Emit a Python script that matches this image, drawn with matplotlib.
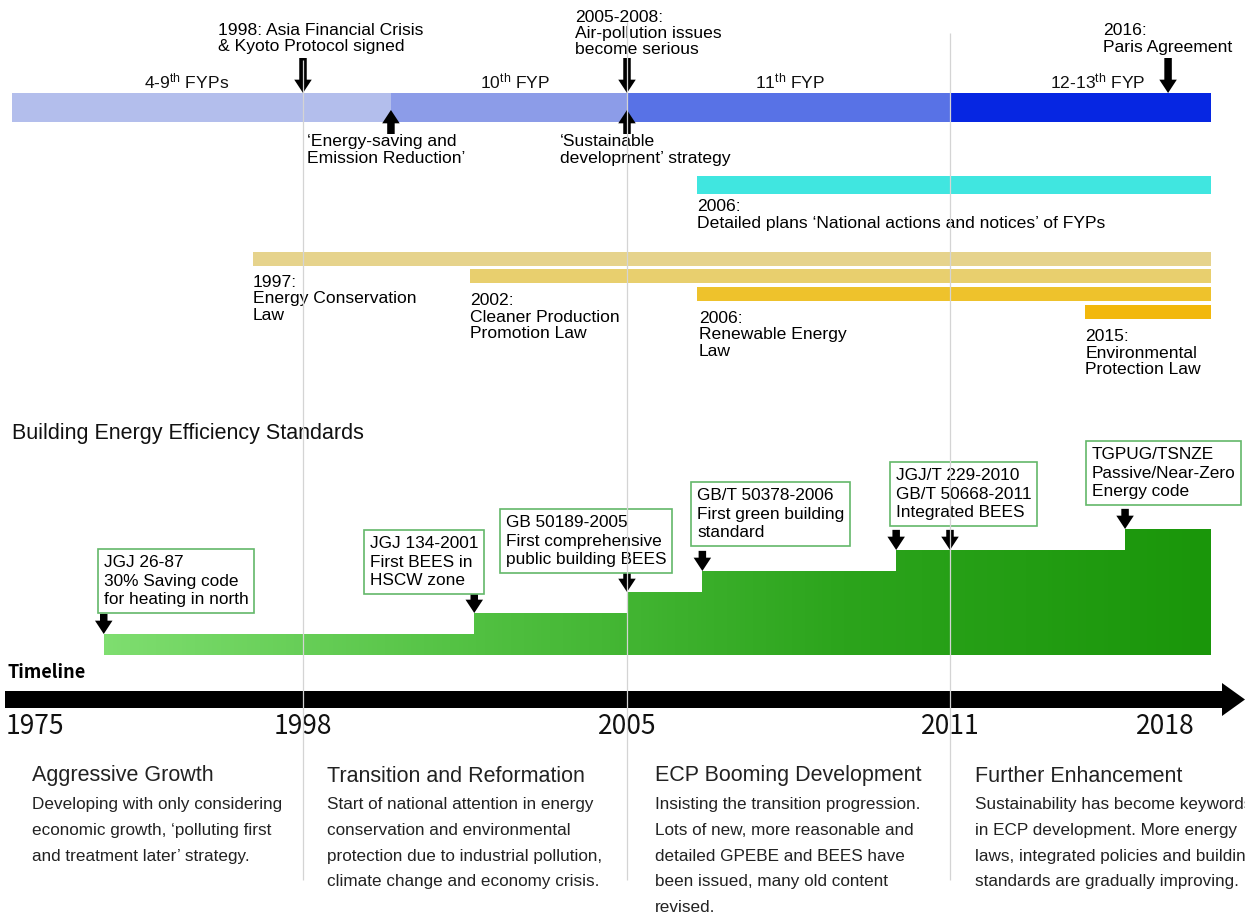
import numpy as np
import matplotlib
matplotlib.use('Agg')
import matplotlib.pyplot as plt
from matplotlib.colors import LinearSegmentedColormap

plt.rcParams['font.family'] = ['Liberation Sans', 'DejaVu Sans']
plt.rcParams['mathtext.fontset'] = 'custom'
plt.rcParams['mathtext.rm'] = 'Liberation Sans'
plt.rcParams['mathtext.it'] = 'Liberation Sans:italic'
plt.rcParams['mathtext.bf'] = 'Liberation Sans:bold'

# ---- data (x values read off the timeline axis, which is not to scale) ----
tick_years = [1975, 1998, 2005, 2011, 2018]

fyp_names = ['4-9$^{\\rm th}$ FYPs', '10$^{\\rm th}$ FYP', '11$^{\\rm th}$ FYP', '12-13$^{\\rm th}$ FYP']
fyp_start = [1973.0, 1999.9, 2005.0, 2011.0]
end_year = 2019.5

down_years = [1998.0, 2005.0, 2018.1]
down_text = ['1998: Asia Financial Crisis\n& Kyoto Protocol signed',
             '2005-2008:\nAir-pollution issues\nbecome serious',
             '2016:\nParis Agreement']
up_years = [1999.9, 2005.0]
up_text = ['\u2018Energy-saving and\nEmission Reduction\u2019',
           '\u2018Sustainable\ndevelopment\u2019 strategy']

plan_start = 2006.3
plan_text = '2006:\nDetailed plans \u2018National actions and notices\u2019 of FYPs'

law_start = [1993.7, 2001.6, 2006.3, 2015.4]
law_text = ['1997:\nEnergy Conservation\nLaw', '2002:\nCleaner Production\nPromotion Law',
            '2006:\nRenewable Energy\nLaw', '2015:\nEnvironmental\nProtection Law']

bees_year = [1980.9, 2001.7, 2005.0, 2006.4, 2010.0, 2011.0, 2016.7]
bees_level = [1, 2, 3, 4, 5, 5, 6]
bees_text = ['JGJ 26-87\n30% Saving code\nfor heating in north',
             'JGJ 134-2001\nFirst BEES in\nHSCW zone',
             'GB 50189-2005\nFirst comprehensive\npublic building BEES',
             'GB/T 50378-2006\nFirst green building\nstandard',
             'JGJ/T 229-2010\nGB/T 50668-2011\nIntegrated BEES',
             'TGPUG/TSNZE\nPassive/Near-Zero\nEnergy code']

phase_title = ['Aggressive Growth', 'Transition and Reformation',
               'ECP Booming Development', 'Further Enhancement']
phase_text = ['Developing with only considering\neconomic growth, \u2018polluting first\nand treatment later\u2019 strategy.',
              'Start of national attention in energy\nconservation and environmental\nprotection due to industrial pollution,\nclimate change and economy crisis.',
              'Insisting the transition progression.\nLots of new, more reasonable and\ndetailed GPEBE and BEES have\nbeen issued, many old content\nrevised.',
              'Sustainability has become keywords\nin ECP development. More energy\nlaws, integrated policies and building\nstandards are gradually improving.']

# ---- layout ----
W, H = 1245, 917
TICK_PX = [35, 303, 627, 950, 1165]


def _pw(x, xs, ys):
    x = np.asarray(x, dtype=float)
    s0 = (ys[1] - ys[0]) / (xs[1] - xs[0])
    s1 = (ys[-1] - ys[-2]) / (xs[-1] - xs[-2])
    out = np.interp(x, xs, ys)
    out = np.where(x < xs[0], ys[0] + (x - xs[0]) * s0, out)
    out = np.where(x > xs[-1], ys[-1] + (x - xs[-1]) * s1, out)
    return out


def fwd(x):
    return _pw(x, tick_years, TICK_PX)


def inv(p):
    return _pw(p, TICK_PX, tick_years)


def yr(p):
    return float(inv(p))


fig = plt.figure(figsize=(W / 100, H / 100), dpi=100, facecolor='white')
ax = fig.add_axes([0, 0, 1, 1])
ax.set_xscale('function', functions=(fwd, inv))
ax.set_zorder(2)
ax.patch.set_alpha(0)
ax.axis('off')

TXT = 12.6
LS = 1.12
arrow_style = 'simple,head_length=0.8,head_width=1.05,tail_width=0.45'


def arrow(a, x, y0, y1, ms=12):
    a.annotate('', xy=(x, y1), xytext=(x, y0), annotation_clip=False,
               arrowprops=dict(arrowstyle=arrow_style, mutation_scale=ms,
                               fc='black', ec='black', lw=0, shrinkA=0, shrinkB=0))


# five-year plan bar
fyp_colors = ['#B3BEEC', '#8C9CE8', '#5872E6', '#0626E2']
fyp_end = fyp_start[1:] + [end_year]
ax.barh([107.5] * 4, np.array(fyp_end) - np.array(fyp_start), left=fyp_start,
        height=29, color=fyp_colors, zorder=2)
fyp_label_px = [187, 515, 790, 1098]
for name, px in zip(fyp_names, fyp_label_px):
    ax.text(yr(px), 81, name, ha='center', va='center', fontsize=TXT, color='#111')

for x in down_years:
    arrow(ax, x, 58, 93)
for x in up_years:
    arrow(ax, x, 134, 110)

ax.text(yr(218), 38.5, down_text[0], ha='left', va='center', fontsize=TXT, linespacing=LS)
ax.text(yr(575), 33.5, down_text[1], ha='left', va='center', fontsize=TXT, linespacing=LS)
ax.text(yr(1103), 39, down_text[2], ha='left', va='center', fontsize=TXT, linespacing=LS)
ax.text(yr(307), 150, up_text[0], ha='left', va='center', fontsize=TXT, linespacing=LS)
ax.text(yr(560), 150, up_text[1], ha='left', va='center', fontsize=TXT, linespacing=LS)

# detailed plans
ax.barh(185, end_year - plan_start, left=plan_start, height=18, color='#40E6E0', zorder=2)
ax.text(plan_start, 215, plan_text, ha='left', va='center', fontsize=TXT, linespacing=LS)

# laws
law_colors = ['#E6D38C', '#E8CF6E', '#EEC22C', '#F2B80C']
law_rows = [259, 276, 294, 312]
ax.barh(law_rows, end_year - np.array(law_start), left=law_start, height=14,
        color=law_colors, zorder=2)
law_text_y = [299, 317, 335, 353]
law_text_dx = [0, 0, 2, 0]
for x, s, y, dx in zip(law_start, law_text, law_text_y, law_text_dx):
    ax.text(yr(fwd(x) + dx), y, s, ha='left', va='center', fontsize=TXT, linespacing=LS)

ax.text(yr(12), 434, 'Building Energy Efficiency Standards', ha='left', va='center',
        fontsize=15.5, color='#111')

# BEES boxes
box_px = [(104, 555), (370, 536), (506, 515), (697, 488), (896, 468), (1092, 447)]
for (bx, by), s in zip(box_px, bees_text):
    ax.text(yr(bx), by, s, ha='left', va='top', fontsize=12.4, linespacing=1.3,
            bbox=dict(boxstyle='square,pad=0.33', fc='white', ec='#63B86A', lw=1.2))

# stepped area of standards
ax_step = fig.add_axes([float(fwd(bees_year[0])) / W, (H - 655) / H,
                        float(fwd(end_year) - fwd(bees_year[0])) / W, 6 * 21 / H])
ax_step.set_zorder(1)
ax_step.set_xscale('function', functions=(fwd, inv))
ax_step.axis('off')
xs = bees_year + [end_year]
lv = bees_level + [bees_level[-1]]
poly = ax_step.fill_between(xs, 0, lv, step='post', facecolor='none', edgecolor='none')
green = LinearSegmentedColormap.from_list('g', ['#7FDE70', '#52C142', '#2CA41C', '#1A960A'])
im = ax_step.imshow(np.linspace(0, 1, 256).reshape(1, -1), extent=[0, 1, 0, 1],
                    transform=ax_step.transAxes, aspect='auto', cmap=green)
im.set_clip_path(poly.get_paths()[0], transform=ax_step.transData)
ax_step.set_xlim(bees_year[0], end_year)
ax_step.set_ylim(0, 6)
for x, l in zip(bees_year, bees_level):
    ax_step.annotate('', xy=(x, l), xytext=(0, 14.5), textcoords='offset points',
                     annotation_clip=False,
                     arrowprops=dict(arrowstyle=arrow_style, mutation_scale=12,
                                     fc='black', ec='black', lw=0, shrinkA=0, shrinkB=0))

# timeline arrow
tx = [5, 1222, 1222, 1245, 1222, 1222, 5]
ty = [691, 691, 683, 699.5, 716, 708, 708]
ax.fill([yr(v) for v in tx], ty, color='black', lw=0, zorder=3)
ax.text(yr(8), 672, 'Timeline', ha='left', va='center', fontsize=13, fontweight='bold',
        family=['Noto Sans CJK SC', 'DejaVu Sans'])
for y in tick_years:
    ax.text(y, 727, str(y), ha='center', va='center', fontsize=19,
            family=['Noto Sans CJK SC', 'DejaVu Sans'], color='#111')

# period guide lines
ax.vlines(tick_years[1:4], [60, 22, 33], 880, colors='#d4d4d4', lw=0.9, zorder=10)

# phases
phase_px = [32, 327, 655, 975]
for px, t, s in zip(phase_px, phase_title, phase_text):
    ax.text(yr(px), 776, t, ha='left', va='center', fontsize=15.5, color='#222')
    ax.text(yr(px), 797, s, ha='left', va='top', fontsize=12.3, linespacing=1.9, color='#222')

ax.set_xlim(yr(0), yr(W))
ax.set_ylim(H, 0)
fig.savefig('out.png', dpi=100, facecolor='white')
